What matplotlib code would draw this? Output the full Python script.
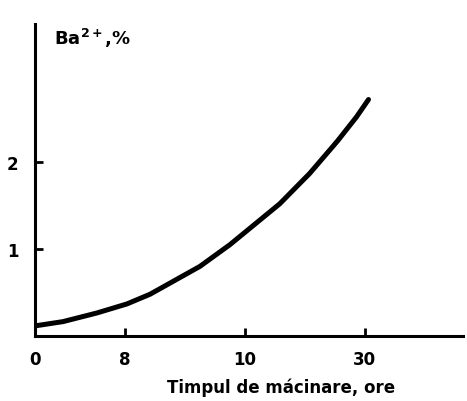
import matplotlib
matplotlib.use("Agg")
import matplotlib.pyplot as plt

# positions of the (uneven) time ticks along the axis, and their labels
tick_pos = [0, 0.75, 1.75, 2.75]
tick_labels = ["0", "8", "10", "30"]
y_ticks = [1, 2]

# curve (axis units)
t = [0, 0.233, 0.517, 0.767, 0.96, 1.375, 1.625, 2.04, 2.29, 2.52, 2.68, 2.78]
ba = [0.115, 0.164, 0.264, 0.368, 0.48, 0.80, 1.05, 1.52, 1.87, 2.24, 2.52, 2.72]

fig = plt.figure(figsize=(4.67, 4.02), dpi=100)
ax = fig.add_axes([0.075, 0.162, 0.917, 0.776])

ax.plot(t, ba, color="black", lw=3.6, solid_capstyle="round", solid_joinstyle="round")

ax.set_xlim(0, 3.57)
ax.set_ylim(0, 3.59)

for side in ("top", "right"):
    ax.spines[side].set_visible(False)
for side in ("left", "bottom"):
    ax.spines[side].set_linewidth(2.2)

ax.set_xticks(tick_pos)
ax.set_xticklabels(tick_labels, fontsize=12, fontweight="bold")
ax.set_yticks(y_ticks)
ax.set_yticklabels([str(v) for v in y_ticks], fontsize=12, fontweight="bold")
ax.tick_params(axis="both", direction="in", length=6, width=2)
ax.tick_params(axis="x", pad=10)
ax.tick_params(axis="y", pad=12)

ax.set_xlabel("Timpul de mácinare, ore", fontsize=12, fontweight="bold", labelpad=6)
ax.xaxis.set_label_coords(0.575, -0.135)
ax.text(0.045, 0.995, r"Ba$^{\mathbf{2+}}$,%", transform=ax.transAxes, fontsize=13,
        fontweight="bold", va="top", ha="left")

fig.savefig("out.png", dpi=100)
